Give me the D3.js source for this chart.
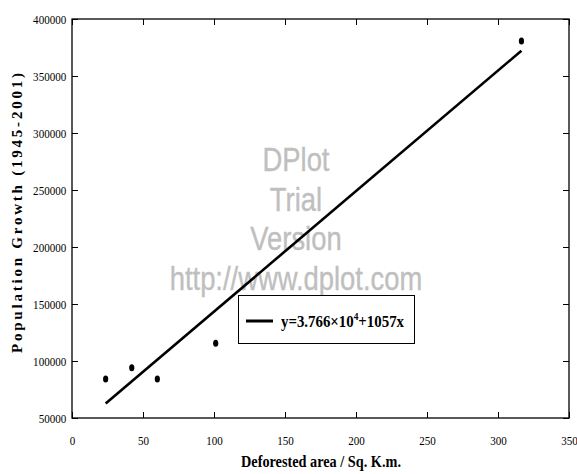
<!DOCTYPE html>
<html>
<head>
<meta charset="utf-8">
<script src="https://cdn.jsdelivr.net/npm/d3@7"></script>
<style>
  body { margin: 0; background: #fff; }
  svg { display: block; }
  .tick line { stroke: #000; stroke-width: 1; }
</style>
</head>
<body>
<div id="chart"></div>
<script>
// observed points (deforested area in sq. km vs population growth 1945-2001)
let areas = [23.7, 42.1, 60.1, 101.2, 316.5];
let growth = [84200, 94100, 84200, 115500, 380700];

// regression line y = 3.766e4 + 1057x, drawn over the data range
let fitIntercept = 37660;
let fitSlope = 1057;

let xTicks = [0, 50, 100, 150, 200, 250, 300, 350];
let yTicks = [50000, 100000, 150000, 200000, 250000, 300000, 350000, 400000];

let watermark = ["DPlot", "Trial", "Version", "http://www.dplot.com"];

let width = 577, height = 474;
let margin = {top: 19, right: 8, bottom: 56, left: 72};
let serif = "'Liberation Serif', 'Times New Roman', serif";

let svg = d3.select("#chart").append("svg")
    .attr("width", width)
    .attr("height", height);

let x = d3.scaleLinear().domain([0, 350]).range([margin.left, width - margin.right]);
let y = d3.scaleLinear().domain([50000, 400000]).range([height - margin.bottom, margin.top]);

// squeeze text horizontally around its own anchor (the source looks narrow)
function squeeze(sel, k) {
    sel.each(function() {
        let t = d3.select(this);
        let tx = +t.attr("x") || 0;
        t.attr("transform", "translate(" + tx + ",0) scale(" + k + ",1) translate(" + (-tx) + ",0)");
    });
}

// watermark first, so everything else draws over it
svg.append("g").selectAll("text")
    .data(watermark)
    .join("text")
    .attr("x", 296)
    .attr("y", (d, i) => 171 + i * 39.7)
    .attr("text-anchor", "middle")
    .style("font-family", "'Liberation Sans', Arial, sans-serif")
    .style("font-size", "33px")
    .style("fill", "#bfbfbf")
    .style("stroke", "#bfbfbf")
    .style("stroke-width", 0.4)
    .text(d => d)
    .call(squeeze, 0.83);

// axes with inward ticks on all four sides
let bottom = svg.append("g")
    .attr("transform", "translate(0," + y.range()[0] + ")")
    .call(d3.axisBottom(x).tickValues(xTicks).tickSize(-6).tickPadding(17).tickSizeOuter(0));
bottom.selectAll(".tick text")
    .style("font-family", serif)
    .style("font-size", "13.5px")
    .call(squeeze, 0.82);

let left = svg.append("g")
    .attr("transform", "translate(" + x.range()[0] + ",0)")
    .call(d3.axisLeft(y).tickValues(yTicks).tickFormat(d3.format("d"))
        .tickSize(-6).tickPadding(7).tickSizeOuter(0));
left.selectAll(".tick text")
    .style("font-family", serif)
    .style("font-size", "13.5px")
    .attr("transform", "scale(0.82,1)");

svg.append("g")
    .attr("transform", "translate(0," + y.range()[1] + ")")
    .call(d3.axisTop(x).tickValues(xTicks).tickSize(-6).tickFormat("").tickSizeOuter(0));

svg.append("g")
    .attr("transform", "translate(" + x.range()[1] + ",0)")
    .call(d3.axisRight(y).tickValues(yTicks).tickSize(-6).tickFormat("").tickSizeOuter(0));

svg.selectAll(".domain").remove();

// plot frame
svg.append("rect")
    .attr("x", x.range()[0])
    .attr("y", y.range()[1])
    .attr("width", x.range()[1] - x.range()[0])
    .attr("height", y.range()[0] - y.range()[1])
    .attr("fill", "none")
    .attr("stroke", "#000")
    .attr("stroke-width", 1.3);

// fitted line
let xExt = d3.extent(areas);
svg.append("line")
    .attr("x1", x(xExt[0]))
    .attr("y1", y(fitIntercept + fitSlope * xExt[0]))
    .attr("x2", x(xExt[1]))
    .attr("y2", y(fitIntercept + fitSlope * xExt[1]))
    .attr("stroke", "#000")
    .attr("stroke-width", 2.6);

// data points (slightly tall ovals)
svg.append("g").selectAll("ellipse")
    .data(areas)
    .join("ellipse")
    .attr("cx", d => x(d))
    .attr("cy", (d, i) => y(growth[i]))
    .attr("rx", 2.6)
    .attr("ry", 3.5)
    .attr("fill", "#000");

// legend
let legend = svg.append("g");
legend.append("rect")
    .attr("x", 238.5).attr("y", 295.5)
    .attr("width", 176).attr("height", 48)
    .attr("fill", "#fff")
    .attr("stroke", "#000")
    .attr("stroke-width", 1);
legend.append("line")
    .attr("x1", 246).attr("x2", 273)
    .attr("y1", 321).attr("y2", 321)
    .attr("stroke", "#000")
    .attr("stroke-width", 3);
let eq = legend.append("text")
    .attr("x", 281)
    .attr("y", 327)
    .style("font-family", serif)
    .style("font-weight", "bold")
    .style("font-size", "17.5px");
eq.append("tspan").text("y=3.766\u00d710");
eq.append("tspan").attr("dy", -7).style("font-size", "11px").text("4");
eq.append("tspan").attr("dy", 7).text("+1057x");
squeeze(eq, 0.85);

// axis titles
let xTitle = svg.append("text")
    .attr("x", 321)
    .attr("y", 467)
    .attr("text-anchor", "middle")
    .style("font-family", serif)
    .style("font-weight", "bold")
    .style("font-size", "17px")
    .text("Deforested area / Sq. K.m.");
squeeze(xTitle, 0.84);

svg.append("text")
    .attr("transform", "translate(22,213) rotate(-90)")
    .attr("text-anchor", "middle")
    .attr("textLength", 280)
    .attr("lengthAdjust", "spacing")
    .style("font-family", serif)
    .style("font-weight", "bold")
    .style("font-size", "15px")
    .text("Population Growth (1945-2001)");
</script>
</body>
</html>
